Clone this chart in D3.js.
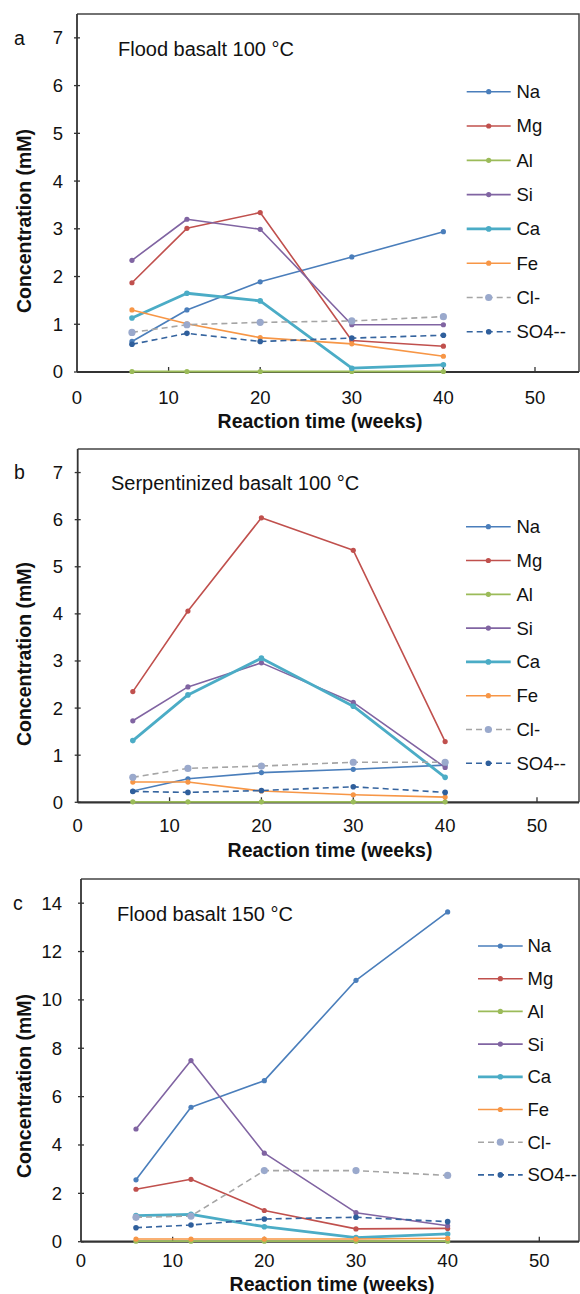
<!DOCTYPE html>
<html>
<head>
<meta charset="utf-8">
<script src="https://cdn.jsdelivr.net/npm/d3@7"></script>
<style>
  html, body { margin: 0; padding: 0; background: #fff; }
  svg { display: block; font-family: "Liberation Sans", Arial, sans-serif; }
</style>
</head>
<body>
<svg id="chart" width="580" height="1294"></svg>
<script>
// Sampling times (weeks)
const weeks = [6, 12, 20, 30, 40];

// Species names, in legend order
const species = ["Na", "Mg", "Al", "Si", "Ca", "Fe", "Cl-", "SO4--"];

// Panel a: flood basalt, 100 °C (mM)
const floodNa100  = [0.64, 1.30, 1.89, 2.41, 2.94];
const floodMg100  = [1.87, 3.01, 3.34, 0.66, 0.54];
const floodAl100  = [0.01, 0.01, 0.01, 0.01, 0.01];
const floodSi100  = [2.34, 3.20, 2.99, 0.99, 0.99];
const floodCa100  = [1.13, 1.65, 1.49, 0.08, 0.15];
const floodFe100  = [1.30, 1.01, 0.72, 0.59, 0.33];
const floodCl100  = [0.83, 0.99, 1.04, 1.07, 1.16];
const floodSO4100 = [0.58, 0.81, 0.64, 0.71, 0.77];

// Panel b: serpentinized basalt, 100 °C (mM)
const serpNa100  = [0.24, 0.50, 0.63, 0.70, 0.79];
const serpMg100  = [2.35, 4.06, 6.04, 5.35, 1.29];
const serpAl100  = [0.01, 0.01, 0.01, 0.01, 0.01];
const serpSi100  = [1.73, 2.45, 2.96, 2.12, 0.74];
const serpCa100  = [1.31, 2.28, 3.06, 2.04, 0.53];
const serpFe100  = [0.43, 0.43, 0.24, 0.16, 0.11];
const serpCl100  = [0.53, 0.72, 0.77, 0.85, 0.85];
const serpSO4100 = [0.23, 0.21, 0.25, 0.33, 0.21];

// Panel c: flood basalt, 150 °C (mM)
const floodNa150  = [2.56, 5.56, 6.66, 10.81, 13.64];
const floodMg150  = [2.17, 2.58, 1.29, 0.53, 0.55];
const floodAl150  = [0.02, 0.02, 0.02, 0.02, 0.02];
const floodSi150  = [4.66, 7.49, 3.66, 1.20, 0.66];
const floodCa150  = [1.08, 1.13, 0.62, 0.17, 0.32];
const floodFe150  = [0.11, 0.11, 0.11, 0.11, 0.14];
const floodCl150  = [1.01, 1.06, 2.94, 2.94, 2.74];
const floodSO4150 = [0.58, 0.69, 0.94, 1.01, 0.83];

// Axis tick values
const xTicks = [0, 10, 20, 30, 40, 50];
const yTicksLow = [0, 1, 2, 3, 4, 5, 6, 7];
const yTicksHigh = [0, 2, 4, 6, 8, 10, 12, 14];

// Panel letters and titles
const panelLetters = ["a", "b", "c"];
const panelTitles = ["Flood basalt 100 °C", "Serpentinized basalt 100 °C", "Flood basalt 150 °C"];
const xAxisTitle = "Reaction time (weeks)";
const yAxisTitle = "Concentration (mM)";

// Series styling
const styles = {
  "Na":    { color: "#4a7ebb", width: 1.6, dash: null, marker: "#4a7ebb", r: 2.6 },
  "Mg":    { color: "#c0504d", width: 1.6, dash: null, marker: "#c0504d", r: 2.6 },
  "Al":    { color: "#9bbb59", width: 1.8, dash: null, marker: "#9bbb59", r: 2.6 },
  "Si":    { color: "#8064a2", width: 1.6, dash: null, marker: "#8064a2", r: 2.6 },
  "Ca":    { color: "#4bacc6", width: 2.8, dash: null, marker: "#4bacc6", r: 2.8 },
  "Fe":    { color: "#f79646", width: 1.6, dash: null, marker: "#f79646", r: 2.6 },
  "Cl-":   { color: "#a5a5a5", width: 1.6, dash: "6,4", marker: "#9aa9cc", r: 3.6 },
  "SO4--": { color: "#35649f", width: 1.6, dash: "6,4", marker: "#2f5f9c", r: 2.8 }
};

const panels = [
  {
    data: [floodNa100, floodMg100, floodAl100, floodSi100, floodCa100, floodFe100, floodCl100, floodSO4100],
    yTicks: yTicksLow, yMax: 7.5,
    left: 77, x50: 535, right: 579, top: 14, bottom: 372,
    letterX: 14, tickLabelX: 63, yTitleX: 31, yTitleY: 221,
    tickLabelY: 403.5, xTitleX: 320, xTitleY: 428, titleX: 118, titleY: 56,
    legTop: 91.7, legStep: 34.3, legX1: 466.7, legX2: 510.7, legTextX: 516.5
  },
  {
    data: [serpNa100, serpMg100, serpAl100, serpSi100, serpCa100, serpFe100, serpCl100, serpSO4100],
    yTicks: yTicksLow, yMax: 7.5,
    left: 77.7, x50: 537, right: 579, top: 449, bottom: 802.3,
    letterX: 14, tickLabelX: 63, yTitleX: 31, yTitleY: 654,
    tickLabelY: 831.5, xTitleX: 330, xTitleY: 857, titleX: 111, titleY: 490,
    legTop: 526.7, legStep: 33.8, legX1: 466, legX2: 510.7, legTextX: 516.5
  },
  {
    data: [floodNa150, floodMg150, floodAl150, floodSi150, floodCa150, floodFe150, floodCl150, floodSO4150],
    yTicks: yTicksHigh, yMax: 15,
    left: 81, x50: 539.3, right: 579, top: 879, bottom: 1241.7,
    letterX: 13, tickLabelX: 62, yTitleX: 31, yTitleY: 1086,
    tickLabelY: 1266.5, xTitleX: 332, xTitleY: 1290.5, titleX: 117, titleY: 921,
    legTop: 946, legStep: 32.7, legX1: 478, legX2: 522.7, legTextX: 527.5
  }
];

const svg = d3.select("#chart");

panels.forEach((p, i) => {
  const g = svg.append("g");
  const x = d3.scaleLinear().domain([0, 50]).range([p.left, p.x50]);
  const y = d3.scaleLinear().domain([0, p.yMax]).range([p.bottom, p.top]);

  // Frame: top and right edges
  g.append("path")
    .attr("d", `M${p.left},${p.top}H${p.right}V${p.bottom}`)
    .attr("fill", "none").attr("stroke", "#444").attr("stroke-width", 1.5);

  // Y axis line with small ticks straddling it
  g.append("line").attr("x1", p.left).attr("x2", p.left)
    .attr("y1", y(0)).attr("y2", p.top)
    .attr("stroke", "#333").attr("stroke-width", 1.8);
  g.selectAll(".ytick").data(p.yTicks).join("line")
    .attr("x1", p.left - 3).attr("x2", p.left + 3)
    .attr("y1", d => y(d)).attr("y2", d => y(d))
    .attr("stroke", "#333").attr("stroke-width", 1.3);
  g.selectAll(".ylab").data(p.yTicks).join("text")
    .attr("x", p.tickLabelX).attr("y", d => y(d))
    .attr("dy", "0.35em").attr("text-anchor", "end")
    .attr("font-size", 18.5).attr("fill", "#111")
    .text(d => d);

  // X axis with ticks pointing into the plot
  g.append("line").attr("x1", p.left).attr("x2", p.right)
    .attr("y1", p.bottom).attr("y2", p.bottom)
    .attr("stroke", "#333").attr("stroke-width", 2.2);
  g.selectAll(".xtick").data(xTicks.filter(d => d > 0)).join("line")
    .attr("x1", d => x(d)).attr("x2", d => x(d))
    .attr("y1", p.bottom).attr("y2", p.bottom - 5)
    .attr("stroke", "#333").attr("stroke-width", 1.3);
  g.selectAll(".xlab").data(xTicks).join("text")
    .attr("x", d => x(d)).attr("y", p.tickLabelY)
    .attr("text-anchor", "middle")
    .attr("font-size", 18.5).attr("fill", "#111")
    .text(d => d);

  // Axis titles
  g.append("text")
    .attr("x", p.xTitleX).attr("y", p.xTitleY)
    .attr("text-anchor", "middle").attr("font-weight", "bold")
    .attr("font-size", 19.5).attr("fill", "#111")
    .text(xAxisTitle);
  g.append("text")
    .attr("transform", `translate(${p.yTitleX},${p.yTitleY}) rotate(-90)`)
    .attr("text-anchor", "middle").attr("font-weight", "bold")
    .attr("font-size", 19.5).attr("fill", "#111")
    .text(yAxisTitle);

  // Panel letter and title
  g.append("text")
    .attr("x", p.letterX).attr("y", y(p.yTicks[p.yTicks.length - 1]))
    .attr("dy", "0.35em").attr("font-size", 19.5).attr("fill", "#111")
    .text(panelLetters[i]);
  g.append("text")
    .attr("x", p.titleX).attr("y", p.titleY)
    .attr("font-size", 20).attr("fill", "#111")
    .text(panelTitles[i]);

  // Series lines and markers
  const line = d3.line().x(d => x(d[0])).y(d => y(d[1]));
  species.forEach((name, k) => {
    const s = styles[name];
    const pts = weeks.map((w, j) => [w, p.data[k][j]]);
    g.append("path").datum(pts)
      .attr("d", line)
      .attr("fill", "none")
      .attr("stroke", s.color)
      .attr("stroke-width", s.width)
      .attr("stroke-dasharray", s.dash)
      .attr("stroke-linejoin", "round");
    g.selectAll(null).data(pts).join("circle")
      .attr("cx", d => x(d[0])).attr("cy", d => y(d[1]))
      .attr("r", s.r).attr("fill", s.marker);
  });

  // Legend
  species.forEach((name, k) => {
    const s = styles[name];
    const ly = p.legTop + k * p.legStep;
    g.append("line")
      .attr("x1", p.legX1).attr("x2", p.legX2)
      .attr("y1", ly).attr("y2", ly)
      .attr("stroke", s.color).attr("stroke-width", s.width)
      .attr("stroke-dasharray", s.dash);
    g.append("circle")
      .attr("cx", (p.legX1 + p.legX2) / 2).attr("cy", ly)
      .attr("r", s.r).attr("fill", s.marker);
    g.append("text")
      .attr("x", p.legTextX).attr("y", ly)
      .attr("dy", "0.35em").attr("font-size", 18.5).attr("fill", "#111")
      .text(name);
  });
});
</script>
</body>
</html>
